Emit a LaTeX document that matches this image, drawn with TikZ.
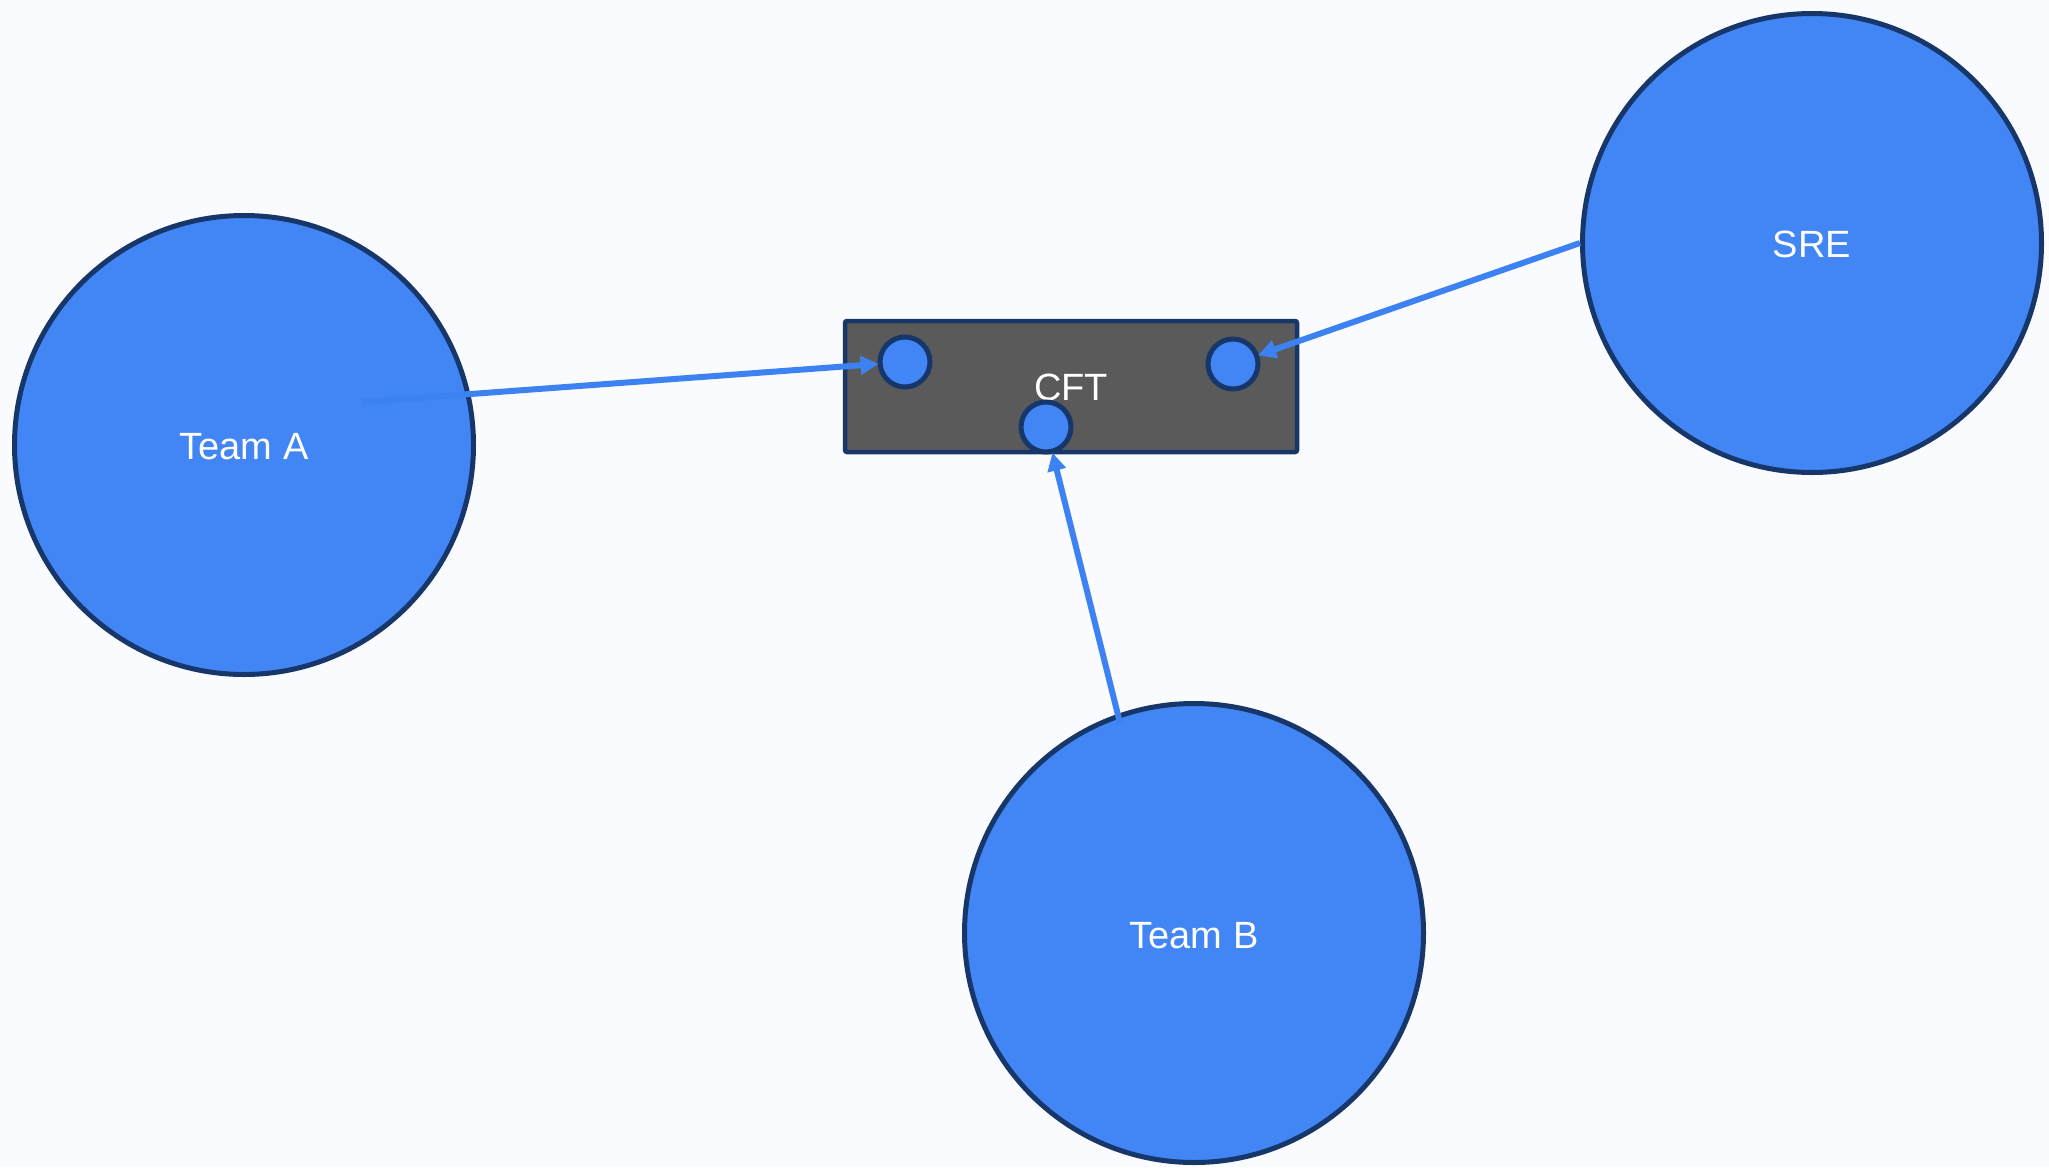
\documentclass[tikz,border=0pt]{standalone}
\usepackage{fontspec}
\setmainfont{Liberation Sans}
\usetikzlibrary{arrows.meta}
\definecolor{bgc}{HTML}{FAFBFE}
\definecolor{teamfill}{HTML}{4285F4}
\definecolor{navy}{HTML}{17376A}
\definecolor{boxfill}{HTML}{5A5A5A}
\definecolor{linkc}{HTML}{3D82F2}
\tikzset{
  team/.style={circle, draw=navy, fill=teamfill, line width=5pt, inner sep=0pt,
    minimum size=459pt},
  port/.style={circle, draw=navy, fill=teamfill, line width=5pt, inner sep=0pt,
    minimum size=50pt},
  hub/.style={rectangle, draw=navy, fill=boxfill, line width=4.5pt, rounded corners=2pt,
    minimum width=452pt, minimum height=131pt, inner sep=0pt},
  lbl/.style={text=white, inner sep=0pt, font=\fontsize{38}{45}\selectfont},
  link/.style={draw=linkc, line width=6pt, -{Triangle[length=18pt,width=18pt]}, shorten >=-1pt}
}
\begin{document}
\begin{tikzpicture}[x=1pt, y=-1pt]
  \fill[bgc] (0,0) rectangle (2049,1167);
  \useasboundingbox (0,0) rectangle (2049,1167);

  % teams
  \node[team] (teamA) at (244,445) {};
  \node[lbl] (labA) at (244,447) {Team A};
  \node[team] (sre) at (1812,243) {};
  \node[lbl] (labS) at (1812,244) {SRE};
  \node[team] (teamB) at (1194,933) {};
  \node[lbl] (labB) at (1194,936) {Team B};

  % shared component with its ports
  \node[hub] (cft) at (1071,386.5) {};
  \node[lbl] (labC) at (1071,387) {CFT};
  \node[port] (pa) at (905,362) {};
  \node[port] (ps) at (1233,364) {};
  \node[port] (pb) at (1046,427) {};

  % link start points
  \coordinate (fromA) at (362,402);
  \coordinate (fromB) at (1120,723);

  \draw[link] (fromA) -- (pa);
  \draw[link] (sre.west) -- (ps);
  \draw[link] (fromB) -- (pb);
\end{tikzpicture}
\end{document}
